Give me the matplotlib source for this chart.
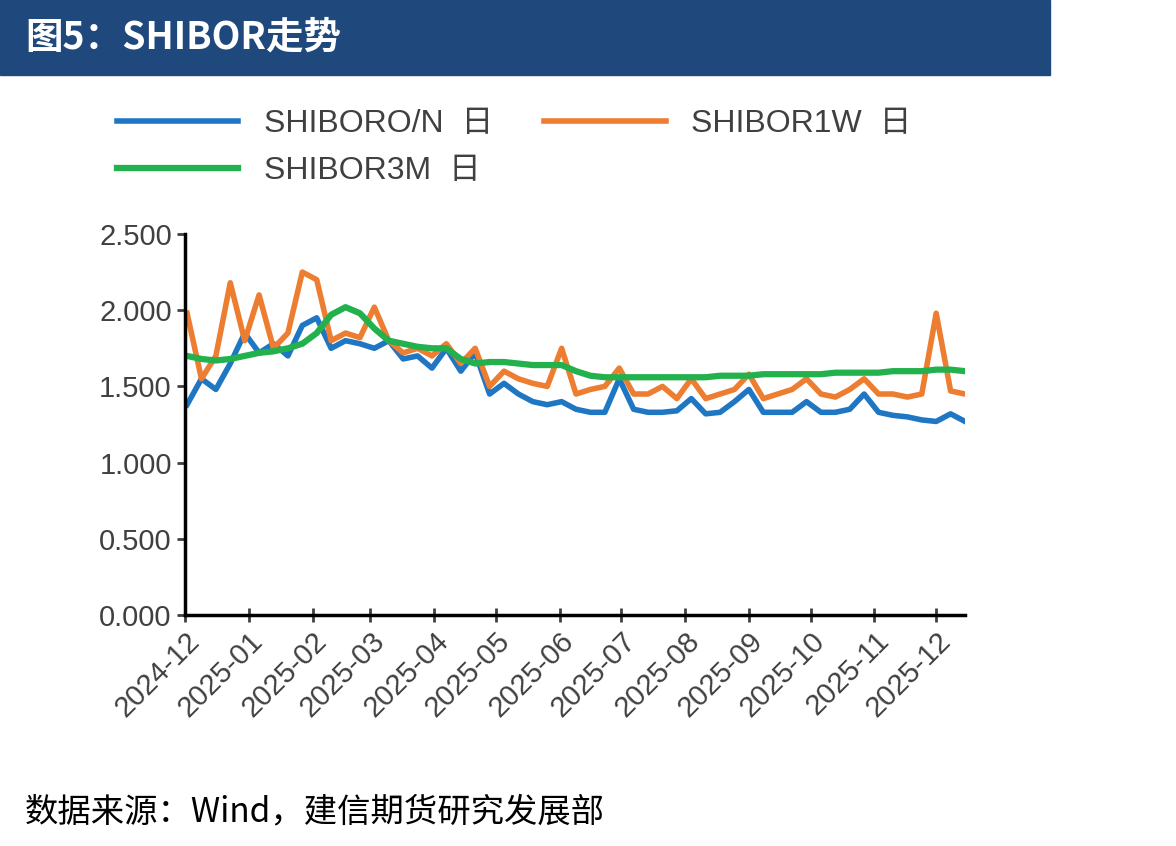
import matplotlib.pyplot as plt
import matplotlib.dates as mdates
import pandas as pd

plt.rcParams['font.family'] = ['Liberation Sans', 'Noto Sans CJK SC', 'DejaVu Sans']

dates = pd.date_range('2024-12-02', '2025-12-15', freq='W-MON')

shibor_on = [1.38, 1.55, 1.48, 1.65, 1.85,
             1.72, 1.78, 1.70, 1.90,
             1.95, 1.75, 1.80, 1.78,
             1.75, 1.80, 1.68, 1.70, 1.62,
             1.75, 1.60, 1.72, 1.45,
             1.52, 1.45, 1.40, 1.38,
             1.40, 1.35, 1.33, 1.33, 1.55,
             1.35, 1.33, 1.33, 1.34,
             1.42, 1.32, 1.33, 1.40,
             1.48, 1.33, 1.33, 1.33, 1.40,
             1.33, 1.33, 1.35, 1.45,
             1.33, 1.31, 1.30, 1.28,
             1.27, 1.32, 1.27]
shibor_1w = [1.98, 1.55, 1.70, 2.18, 1.80,
             2.10, 1.75, 1.85, 2.25,
             2.20, 1.80, 1.85, 1.82,
             2.02, 1.80, 1.72, 1.75, 1.70,
             1.78, 1.65, 1.75, 1.50,
             1.60, 1.55, 1.52, 1.50,
             1.75, 1.45, 1.48, 1.50, 1.62,
             1.45, 1.45, 1.50, 1.42,
             1.55, 1.42, 1.45, 1.48,
             1.58, 1.42, 1.45, 1.48, 1.55,
             1.45, 1.43, 1.48, 1.55,
             1.45, 1.45, 1.43, 1.45,
             1.98, 1.47, 1.45]
shibor_3m = [1.70, 1.68, 1.67, 1.68, 1.70,
             1.72, 1.73, 1.75, 1.78,
             1.85, 1.97, 2.02, 1.98,
             1.88, 1.80, 1.78, 1.76, 1.75,
             1.75, 1.68, 1.65, 1.66,
             1.66, 1.65, 1.64, 1.64,
             1.64, 1.60, 1.57, 1.56, 1.56,
             1.56, 1.56, 1.56, 1.56,
             1.56, 1.56, 1.57, 1.57,
             1.57, 1.58, 1.58, 1.58, 1.58,
             1.58, 1.59, 1.59, 1.59,
             1.59, 1.60, 1.60, 1.60,
             1.61, 1.61, 1.60]

fig = plt.figure(figsize=(11.76, 8.46), dpi=100)

# title banner
fig.patches.append(plt.Rectangle((0, 1 - 75 / 846), 1050 / 1176, 75 / 846,
                                 transform=fig.transFigure, color='#1F497D', zorder=0))
fig.text(25 / 1176, 1 - 37 / 846, '图5：SHIBOR走势', color='white', fontsize=27,
         fontweight='bold', va='center', family=['Noto Sans CJK SC', 'DejaVu Sans'])

ax = fig.add_axes([185 / 1176, 1 - 615 / 846, 780 / 1176, 381 / 846])
l_on, = ax.plot(dates, shibor_on, color='#1F77C4', lw=4, label='SHIBORO/N  日')
l_1w, = ax.plot(dates, shibor_1w, color='#ED7D31', lw=4, label='SHIBOR1W  日')
l_3m, = ax.plot(dates, shibor_3m, color='#22B14C', lw=4.5, label='SHIBOR3M  日')

ax.set_ylim(0, 2.5)
ax.set_yticks([0, 0.5, 1.0, 1.5, 2.0, 2.5])
ax.yaxis.set_major_formatter(plt.FuncFormatter(lambda v, p: f'{v:.3f}'))
ax.set_xlim(pd.Timestamp('2024-12-01'), pd.Timestamp('2025-12-15'))
ax.xaxis.set_major_locator(mdates.MonthLocator())
ax.xaxis.set_major_formatter(mdates.DateFormatter('%Y-%m'))
for lab in ax.get_xticklabels():
    lab.set_rotation(45)
    lab.set_ha('right')
    lab.set_rotation_mode('anchor')
ax.tick_params(labelsize=21, width=2, length=6, colors='#404040')
ax.tick_params(axis='x', direction='inout', length=10)
for s in ['top', 'right']:
    ax.spines[s].set_visible(False)
for s in ['left', 'bottom']:
    ax.spines[s].set_linewidth(2.5)

fig.legend([l_on, l_3m, l_1w], [l_on.get_label(), l_3m.get_label(), l_1w.get_label()],
           loc='upper left', bbox_to_anchor=(88 / 1176, 1 - 80 / 846), ncol=2,
           frameon=False, fontsize=23, handlelength=3.8, columnspacing=1.6,
           labelspacing=0.55, labelcolor='#404040')

fig.text(25 / 1176, 1 - 812 / 846, '数据来源：Wind，建信期货研究发展部', fontsize=24,
         va='center', family=['Noto Sans CJK SC', 'DejaVu Sans'])

fig.savefig('out.png')
